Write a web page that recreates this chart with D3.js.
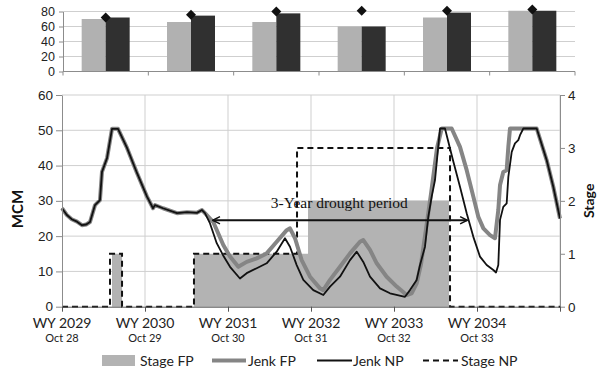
<!DOCTYPE html>
<html>
<head>
<meta charset="utf-8">
<script src="https://d3js.org/d3.v7.min.js"></script>
<style>
  body { margin: 0; background: #fff; }
  svg { display: block; font-family: Lato, "Open Sans", sans-serif; }
</style>
</head>
<body>
<svg id="chart" width="597" height="371"></svg>
<script>
// ---- data ----
const wyLabels = ["WY 2029", "WY 2030", "WY 2031", "WY 2032", "WY 2033", "WY 2034"];
const octLabels = ["Oct 28", "Oct 29", "Oct 30", "Oct 31", "Oct 32", "Oct 33"];

// top panel (one group per water year)
const topLight = [70, 66, 66, 60, 72, 81];
const topDark = [72, 74.5, 77.5, 60, 78.5, 81];
const topDiamond = [72, 75.5, 80, 81, 81, 82.5];

// months since start of WY 2029, MCM
const jenkShared = [[0, 27.9], [0.7, 26], [1.4, 24.8], [2.17, 24.1], [2.89, 23.1], [3.5, 23.3], [4.05, 24],
  [4.77, 28.8], [5.49, 30.2], [5.78, 38.2], [6.51, 42.1], [7.23, 50.4], [8.1, 50.4], [9.4, 45],
  [10.84, 37.9], [12.29, 31.2], [13.16, 27.9], [13.45, 28.8], [14.6, 27.9], [16.63, 26.5],
  [18.07, 26.8], [19.5, 26.6], [20.24, 27.4], [20.67, 26.5]];
const jenkNP = jenkShared.concat([[21.4, 23.6], [22.37, 18], [23.28, 14.6], [24.29, 11.3], [25.73, 8],
  [26.7, 9.5], [28.15, 10.9], [29.59, 12.3], [31.04, 15.6], [32.24, 19.4], [32.96, 17], [33.93, 11.8],
  [34.89, 7.6], [36.33, 4.7], [37.78, 3.3], [38.75, 5.7], [40.19, 8.5], [41.64, 13.2], [42.61, 15.6],
  [43.56, 12.7], [44.53, 8.5], [45.98, 5.2], [47.42, 3.8], [49.59, 2.8], [50.31, 4.7], [51.28, 7.6],
  [51.76, 11.8], [52.48, 17], [52.96, 25.5], [53.45, 31.2], [53.93, 35.9], [54.65, 50.5], [55.37, 50.5],
  [56.53, 41.5], [57.54, 34], [58.51, 26.5], [59.47, 19.8], [60.43, 14.2], [61.4, 11.8], [62.36, 10.4],
  [62.75, 9.7], [63.08, 11.8], [63.33, 24.6], [63.8, 28.3], [64.29, 29.3], [64.53, 36.8], [65.02, 43.9],
  [65.49, 46.3], [65.97, 47.2], [66.22, 48.6], [66.7, 50.5], [68.63, 50.5], [70.08, 41.5], [71.03, 34],
  [72, 25]]);
const jenkFP = jenkShared.concat([[21.87, 24], [23.32, 17.5], [24.29, 14.2], [25.49, 11.3], [26.7, 12.7],
  [28.15, 13.7], [29.59, 15.1], [31.04, 18.4], [32.49, 21.7], [32.96, 22.2], [33.69, 19.4], [34.65, 13.2],
  [35.86, 8.5], [37.3, 5.2], [37.78, 4.7], [38.75, 7.6], [40.19, 11.3], [41.64, 15.1], [43.08, 18.4],
  [43.56, 18.9], [44.53, 16.1], [45.5, 12.3], [46.94, 8.5], [48.39, 5.7], [49.83, 3.3], [50.55, 3.8],
  [51.28, 6.6], [51.9, 12], [52.63, 22], [53.35, 32], [54.22, 45], [54.9, 50.5], [56.34, 50.5],
  [57.54, 45.3], [58.51, 38.7], [59.47, 31.2], [60.19, 25.5], [60.92, 22.2], [61.88, 20.3], [62.6, 19.4],
  [63.08, 27.4], [63.33, 34.5], [63.8, 38.2], [64.29, 38.7], [64.53, 45.3], [64.77, 50.5], [68.63, 50.5],
  [70.08, 41.5], [71.03, 34], [72, 25]]);

// stage steps: [month, stage] (step after)
const stageFP = [[0, 0], [7.23, 1], [8.68, 0], [19.08, 1], [35.57, 2], [55.95, 0], [72, 0]];
const stageNP = [[0, 0], [6.94, 1], [8.68, 0], [19.08, 1], [33.98, 3], [56.1, 0], [72, 0]];

const droughtSpan = [21.8, 58.6];
const droughtLevel = 24.5;

// ---- layout ----
const svg = d3.select("#chart");
const gridColor = "#cfcfcf";
const axisColor = "#8c8c8c";

// ================= top panel =================
const tx = d3.scaleBand().domain(d3.range(topLight.length)).range([63, 575]).padding(0);
const ty = d3.scaleLinear().domain([0, 80]).range([71.5, 11.5]);
const barW = 24;

const topG = svg.append("g");
topG.selectAll(".tgrid").data([20, 40, 60, 80]).enter().append("line")
  .attr("x1", 63).attr("x2", 575)
  .attr("y1", d => ty(d)).attr("y2", d => ty(d))
  .attr("stroke", gridColor).attr("stroke-width", 1);

topG.selectAll(".lbar").data(topLight).enter().append("rect")
  .attr("x", (d, i) => tx(i) + tx.bandwidth() / 2 - barW)
  .attr("y", d => ty(d)).attr("width", barW).attr("height", d => ty(0) - ty(d))
  .attr("fill", "#b1b1b1");
topG.selectAll(".dbar").data(topDark).enter().append("rect")
  .attr("x", (d, i) => tx(i) + tx.bandwidth() / 2)
  .attr("y", d => ty(d)).attr("width", barW).attr("height", d => ty(0) - ty(d))
  .attr("fill", "#303030");
topG.selectAll(".diamond").data(topDiamond).enter().append("path")
  .attr("d", d3.symbol(d3.symbolSquare, 50))
  .attr("transform", (d, i) => `translate(${tx(i) + tx.bandwidth() / 2},${ty(d)}) rotate(45)`)
  .attr("fill", "#111");

const tAxisL = topG.append("g").attr("transform", "translate(63,0)")
  .call(d3.axisLeft(ty).tickValues([0, 20, 40, 60, 80]).tickSize(4).tickSizeOuter(0));
tAxisL.select(".domain").attr("stroke", axisColor);
tAxisL.selectAll(".tick line").attr("stroke", axisColor);
tAxisL.selectAll("text").attr("font-size", 12.5).attr("fill", "#222").attr("dx", "-1");

topG.append("line").attr("x1", 63).attr("x2", 575).attr("y1", ty(0)).attr("y2", ty(0))
  .attr("stroke", axisColor);
topG.selectAll(".ttick").data(d3.range(topLight.length + 1)).enter().append("line")
  .attr("x1", d => 63 + d * tx.bandwidth()).attr("x2", d => 63 + d * tx.bandwidth())
  .attr("y1", ty(0)).attr("y2", ty(0) + 4).attr("stroke", axisColor);

// ================= main panel =================
const x = d3.scaleLinear().domain([0, 72]).range([62, 560]);
const y = d3.scaleLinear().domain([0, 60]).range([306.7, 95]);
const y2 = d3.scaleLinear().domain([0, 4]).range([306.7, 95]);

const main = svg.append("g");
main.selectAll(".hgrid").data(d3.range(10, 61, 10)).enter().append("line")
  .attr("x1", x(0)).attr("x2", x(72))
  .attr("y1", d => y(d)).attr("y2", d => y(d))
  .attr("stroke", gridColor);
main.selectAll(".vgrid").data(d3.range(12, 73, 12)).enter().append("line")
  .attr("x1", d => x(d)).attr("x2", d => x(d))
  .attr("y1", y(0)).attr("y2", y(60))
  .attr("stroke", gridColor);

// Stage FP area
main.append("path").datum(stageFP)
  .attr("d", d3.area().curve(d3.curveStepAfter).x(d => x(d[0])).y0(y2(0)).y1(d => y2(d[1])))
  .attr("fill", "#b3b3b3");

// Stage NP dashed
main.append("path").datum(stageNP)
  .attr("d", d3.line().curve(d3.curveStepAfter).x(d => x(d[0])).y(d => y2(d[1])))
  .attr("fill", "none").attr("stroke", "#111").attr("stroke-width", 2)
  .attr("stroke-dasharray", "6,4");

const line = d3.line().x(d => x(d[0])).y(d => y(d[1]));
main.append("path").datum(jenkFP).attr("d", line)
  .attr("fill", "none").attr("stroke", "#858585").attr("stroke-width", 4)
  .attr("stroke-linejoin", "round");
main.append("path").datum(jenkNP).attr("d", line)
  .attr("fill", "none").attr("stroke", "#111").attr("stroke-width", 1.8)
  .attr("stroke-linejoin", "round");

// drought arrow
svg.append("defs").append("marker")
  .attr("id", "arr").attr("viewBox", "0 0 10 10").attr("refX", 9).attr("refY", 5)
  .attr("markerWidth", 9).attr("markerHeight", 9).attr("orient", "auto-start-reverse")
  .attr("markerUnits", "userSpaceOnUse")
  .append("path").attr("d", "M1,1 L9,5 L1,9").attr("fill", "none").attr("stroke", "#111").attr("stroke-width", 1.6);
main.append("line")
  .attr("x1", x(droughtSpan[0])).attr("x2", x(droughtSpan[1]))
  .attr("y1", y(droughtLevel)).attr("y2", y(droughtLevel))
  .attr("stroke", "#111").attr("stroke-width", 1.8)
  .attr("marker-start", "url(#arr)").attr("marker-end", "url(#arr)");
main.append("text")
  .attr("x", x(40.1)).attr("y", y(droughtLevel) - 12)
  .attr("text-anchor", "middle")
  .attr("font-family", "'Liberation Serif', 'Times New Roman', serif")
  .attr("font-size", 15.5).attr("fill", "#111")
  .text("3-Year drought period");

// axes
const axL = main.append("g").attr("transform", `translate(${x(0)},0)`)
  .call(d3.axisLeft(y).tickValues(d3.range(0, 61, 10)).tickSize(6).tickSizeOuter(0));
axL.select(".domain").attr("stroke", axisColor);
axL.selectAll(".tick line").attr("stroke", axisColor);
axL.selectAll("text").attr("font-size", 13.5).attr("fill", "#222").attr("dy", "0.3em");

const axR = main.append("g").attr("transform", `translate(${x(72)},0)`)
  .call(d3.axisRight(y2).tickValues([0, 1, 2, 3, 4]).tickFormat(d3.format("d"))
    .tickSize(5).tickSizeOuter(0));
axR.select(".domain").attr("stroke", axisColor);
axR.selectAll(".tick line").attr("stroke", axisColor);
axR.selectAll("text").attr("font-size", 13.5).attr("fill", "#222");

const axB = main.append("g").attr("transform", `translate(0,${y(0)})`)
  .call(d3.axisBottom(x).tickValues(d3.range(0, 73, 12)).tickSize(5).tickSizeOuter(0).tickFormat(""));
axB.select(".domain").attr("stroke", "#555");
axB.selectAll(".tick line").attr("stroke", "#555");

main.selectAll(".wy").data(wyLabels).enter().append("text")
  .attr("x", (d, i) => x(i * 12)).attr("y", 327.5)
  .attr("text-anchor", "middle").attr("font-size", 14).attr("fill", "#222")
  .text(d => d);
main.selectAll(".oct").data(octLabels).enter().append("text")
  .attr("x", (d, i) => x(i * 12)).attr("y", 341.7)
  .attr("text-anchor", "middle").attr("font-size", 11).attr("fill", "#222")
  .text(d => d);

svg.append("text")
  .attr("transform", `translate(22.5,209) rotate(-90)`)
  .attr("text-anchor", "middle").attr("font-size", 15).attr("font-weight", "bold").attr("fill", "#111")
  .text("MCM");
svg.append("text")
  .attr("transform", `translate(594,${(y(0) + y(60)) / 2}) rotate(-90)`)
  .attr("text-anchor", "middle").attr("font-size", 14).attr("font-weight", "bold").attr("fill", "#111")
  .text("Stage");

// legend
const leg = svg.append("g").attr("font-size", 14).attr("fill", "#222");
const legY = 360.5;
leg.append("rect").attr("x", 102).attr("y", legY - 5.5).attr("width", 33).attr("height", 11).attr("fill", "#b3b3b3");
leg.append("text").attr("x", 140).attr("y", legY + 5).text("Stage FP");
leg.append("line").attr("x1", 212).attr("x2", 246).attr("y1", legY).attr("y2", legY)
  .attr("stroke", "#858585").attr("stroke-width", 4);
leg.append("text").attr("x", 248).attr("y", legY + 5).text("Jenk FP");
leg.append("line").attr("x1", 317).attr("x2", 352).attr("y1", legY).attr("y2", legY)
  .attr("stroke", "#111").attr("stroke-width", 1.8);
leg.append("text").attr("x", 353).attr("y", legY + 5).text("Jenk NP");
leg.append("line").attr("x1", 423).attr("x2", 458).attr("y1", legY).attr("y2", legY)
  .attr("stroke", "#111").attr("stroke-width", 2).attr("stroke-dasharray", "6,4");
leg.append("text").attr("x", 461).attr("y", legY + 5).text("Stage NP");
</script>
</body>
</html>
